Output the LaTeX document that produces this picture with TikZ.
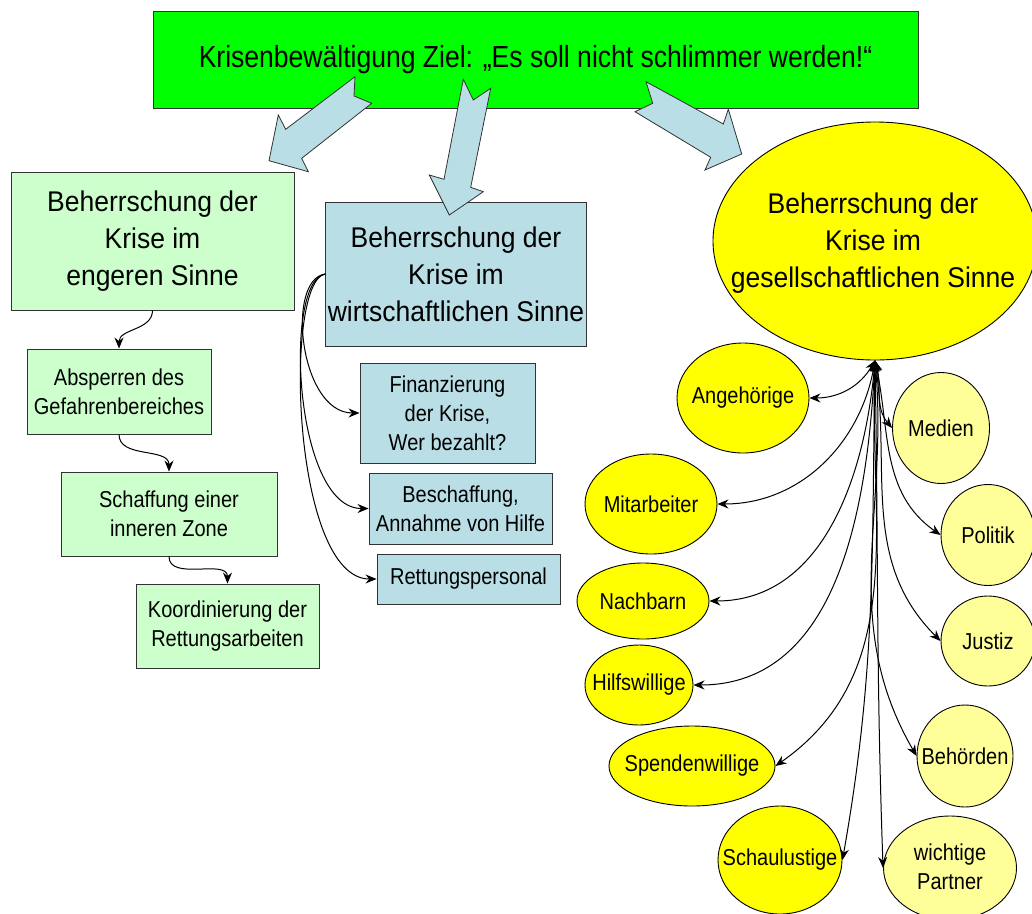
\documentclass[tikz,border=0pt]{standalone}
\usepackage{fontspec}
\setmainfont{Liberation Sans}[FakeStretch=0.87]
\newfontfamily\bigfam{Liberation Sans}[FakeStretch=0.93]
\usetikzlibrary{shapes.geometric,arrows.meta}
\definecolor{tgreen}{RGB}{0,255,0}
\definecolor{lgreen}{RGB}{204,255,204}
\definecolor{lblue}{RGB}{186,222,230}
\definecolor{yel}{RGB}{255,255,0}
\definecolor{lyel}{RGB}{255,255,153}
\definecolor{edgecol}{RGB}{50,50,50}
\begin{document}
\begin{tikzpicture}[x=1pt,y=-1pt,
  box/.style={draw=edgecol, line width=0.9pt, inner sep=2pt, align=center, rectangle},
  bigtxt/.style={font=\bigfam\fontsize{28.5}{37}\selectfont, align=center},
  smalltxt/.style={font=\fontsize{23}{29}\selectfont, align=center},
  titletxt/.style={font=\fontsize{30.5}{36}\selectfont},
  ell/.style={draw=black, line width=0.9pt, ellipse, inner sep=0pt},
  conn/.style={line width=1pt, -{Stealth[length=11pt,width=9pt]}},
  dconn/.style={line width=1pt, {Stealth[length=11pt,width=9pt]}-{Stealth[length=11pt,width=9pt]}},
  blockarrow/.style={fill=lblue, draw=edgecol, line width=0.8pt, line join=miter}
]
\useasboundingbox (0,0) rectangle (1032,913);

% title box
\node[box, fill=tgreen, minimum width=765pt, minimum height=97pt, titletxt] (title) at (535.5,59.5)
  {Krisenbewältigung Ziel: „Es soll nicht schlimmer werden!“};

% left column
\node[box, fill=lgreen, minimum width=283pt, minimum height=138pt, bigtxt] (b1) at (152.5,241)
  {Beherrschung der\\Krise im\\engeren Sinne};
\node[box, fill=lgreen, minimum width=184pt, minimum height=85pt, smalltxt] (abs) at (119,391.5)
  {Absperren des\\Gefahrenbereiches};
\node[box, fill=lgreen, minimum width=216pt, minimum height=84pt, smalltxt] (sch) at (169,514)
  {Schaffung einer\\inneren Zone};
\node[box, fill=lgreen, minimum width=183pt, minimum height=84pt, smalltxt] (koo) at (227.5,626)
  {Koordinierung der\\Rettungsarbeiten};

\draw[conn] (b1.south) to[out=-90,in=90] (abs.north);
\draw[conn] (abs.south) to[out=-90,in=90] (sch.north);
\draw[conn] (sch.south) to[out=-90,in=90] (koo.north);

% middle column
\node[box, fill=lblue, minimum width=258pt, minimum height=144pt, bigtxt] (b2) at (456,274)
  {Beherrschung der\\Krise im\\wirtschaftlichen Sinne};
\node[box, fill=lblue, minimum width=175pt, minimum height=100pt, smalltxt] (fin) at (447.5,413)
  {Finanzierung\\der Krise,\\Wer bezahlt?};
\node[box, fill=lblue, minimum width=183pt, minimum height=71pt, smalltxt] (bes) at (460.5,508.5)
  {Beschaffung,\\Annahme von Hilfe};
\node[box, fill=lblue, minimum width=183pt, minimum height=50pt, smalltxt] (ret) at (468.5,579)
  {Rettungspersonal};

\draw[conn] (b2.west) .. controls +(-40,5) and +(-60,0) .. (fin.west);
\draw[conn] (b2.west) .. controls +(-42,5) and +(-75,0) .. (bes.west);
\draw[conn] (b2.west) .. controls +(-42,6) and +(-85,0) .. (ret.west);

% right column
\node[ell, fill=yel, minimum width=324pt, minimum height=238pt] (gs) at (875,241) {};
\node[bigtxt] (gsT) at (873,243) {Beherrschung der\\Krise im\\gesellschaftlichen Sinne};

\node[ell, fill=yel, minimum width=132pt, minimum height=110pt] (ang) at (743,398) {};
\node[smalltxt] (angT) at (ang) {Angehörige};
\node[ell, fill=yel, minimum width=132pt, minimum height=100pt] (mit) at (651,504) {};
\node[smalltxt] (mitT) at (mit) {Mitarbeiter};
\node[ell, fill=yel, minimum width=132pt, minimum height=76pt] (nac) at (643,601) {};
\node[smalltxt] (nacT) at (nac) {Nachbarn};
\node[ell, fill=yel, minimum width=108pt, minimum height=80pt] (hil) at (639,685) {};
\node[smalltxt] (hilT) at (hil) {Hilfswillige};
\node[ell, fill=yel, minimum width=166pt, minimum height=80pt] (spe) at (692,766) {};
\node[smalltxt] (speT) at (spe) {Spendenwillige};
\node[ell, fill=yel, minimum width=124pt, minimum height=108pt] (sca) at (780,860) {};
\node[smalltxt] (scaT) at (sca) {Schaulustige};

\node[ell, fill=lyel, minimum width=97pt, minimum height=111pt] (med) at (941,428) {};
\node[smalltxt] (medT) at (med) {Medien};
\node[ell, fill=lyel, minimum width=94pt, minimum height=101pt] (pol) at (988,535) {};
\node[smalltxt] (polT) at (pol) {Politik};
\node[ell, fill=lyel, minimum width=94pt, minimum height=90pt] (jus) at (988,641) {};
\node[smalltxt] (jusT) at (jus) {Justiz};
\node[ell, fill=lyel, minimum width=96pt, minimum height=102pt] (beh) at (965,756) {};
\node[smalltxt] (behT) at (beh) {Behörden};
\node[ell, fill=lyel, minimum width=133pt, minimum height=104pt] (wic) at (950,868) {};
\node[smalltxt] (wicT) at (950,867) {wichtige\\Partner};

\draw[dconn] (gs.south) to[out=-120,in=0] (ang.east);
\draw[dconn] (gs.south) to[out=-100,in=0] (mit.east);
\draw[dconn] (gs.south) to[out=-95,in=0] (nac.east);
\draw[dconn] (gs.south) to[out=-93,in=0] (hil.east);
\draw[dconn] (gs.south) to[out=-92,in=35] (spe.east);
\draw[dconn] (gs.south) to[out=-91,in=80] (sca.east);
\draw[dconn] (gs.south) to[out=-89,in=92] (wic.west);
\draw[dconn] (gs.south) to[out=-85,in=120] (beh.west);
\draw[dconn] (gs.south) to[out=-82,in=135] (jus.west);
\draw[dconn] (gs.south) to[out=-78,in=145] (pol.west);
\draw[dconn] (gs.south) to[out=-75,in=130] (med.west);

% block arrows from the title
\draw[blockarrow] (355,76.7) -- (354,96) -- (371.7,103.3) -- (301.7,158.3) -- (308.3,171.7)
  -- (269,160.7) -- (278.3,115) -- (285.7,129.3) -- cycle;
\draw[blockarrow] (463.3,79.3) -- (473.3,100) -- (490.7,88.3) -- (470.7,187.3) -- (483.3,191.7)
  -- (449.3,215) -- (429.3,175) -- (444,179.3) -- cycle;
\draw[blockarrow] (646,81.7) -- (652.7,103.3) -- (635,111.7) -- (710.7,157.3) -- (705,170)
  -- (741.7,154) -- (728.3,109.3) -- (723.3,124) -- cycle;
\end{tikzpicture}
\end{document}
